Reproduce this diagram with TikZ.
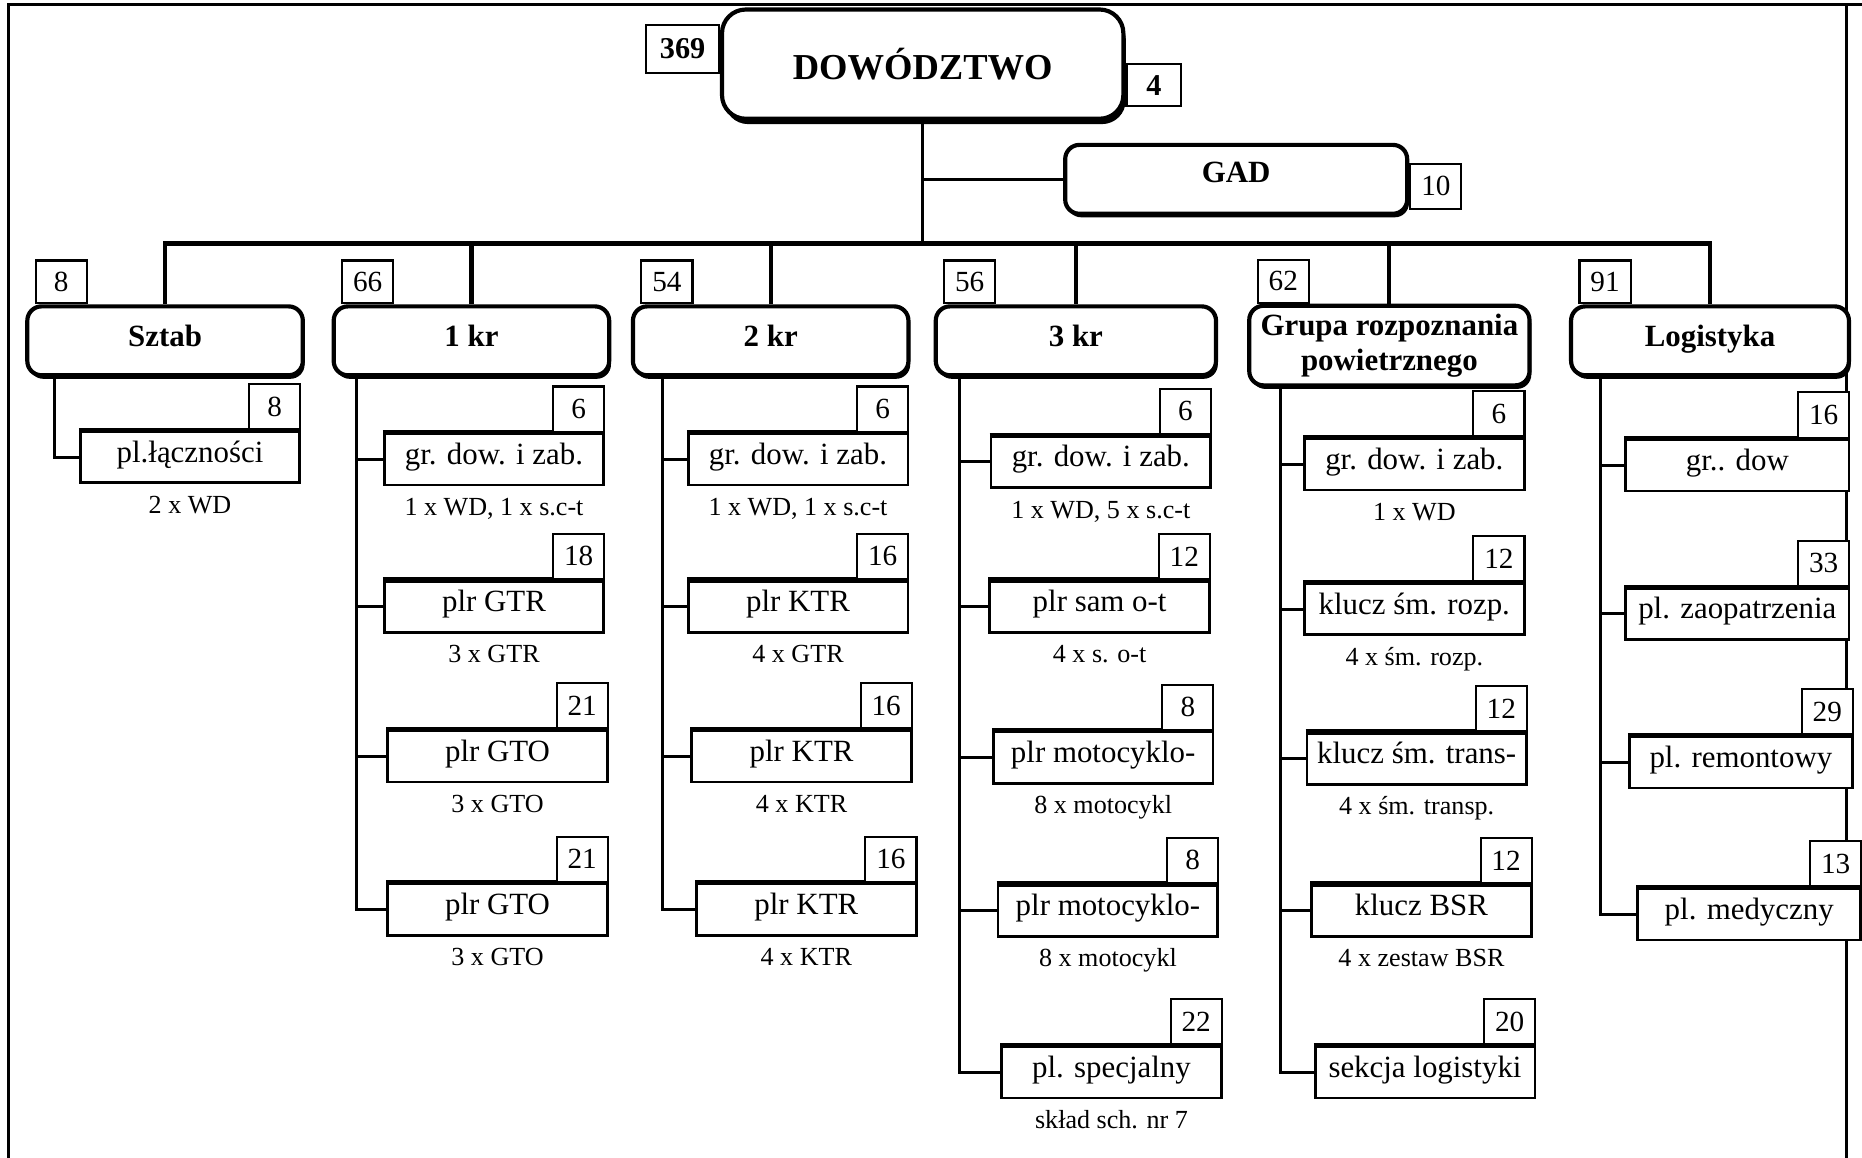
\documentclass[tikz,border=0pt]{standalone}
\usepackage{fontspec}
\setmainfont{Liberation Serif}
\usetikzlibrary{positioning,shadows}

\begin{document}
\begin{tikzpicture}[x=0.2mm,y=-0.2mm,
  unit/.style={draw, fill=white, rounded corners=2.4mm, line width=2pt,
    minimum width=46.4mm, minimum height=11.6mm, inner sep=1pt, align=center,
    font=\bfseries\fontsize{14.8}{16.6}\selectfont,
    drop shadow={shadow xshift=.3mm, shadow yshift=-.6mm, fill=black, opacity=1}},
  branch/.style={unit, text depth=.5em},
  sub/.style={draw, fill=white, line width=1.3pt, minimum width=37mm,
    minimum height=8.6mm, inner sep=0pt, text height=.7em, text depth=.22em,
    font=\fontsize{14.8}{15}\selectfont,
    append after command={(\tikzlastnode.north west) edge[line width=2.4pt] (\tikzlastnode.north east)}},
  num/.style={draw, fill=white, line width=1pt, minimum width=8.6mm,
    minimum height=7.6mm, inner sep=0pt, font=\fontsize{14}{15}\selectfont},
  note/.style={inner sep=0pt, text height=.7em, text depth=.25em,
    font=\fontsize{12.5}{14}\selectfont},
  conn/.style={line width=1.4pt}
]
\useasboundingbox (0,0) rectangle (1568,975);

% frame of the sheet
\draw[line width=1.4pt] (7,975) -- (7,4) -- (1568,4);
\draw[line width=1.2pt] (1555,4) -- (1555,975);

% command and GAD
\node[unit, minimum width=67.6mm, minimum height=18.4mm, rounded corners=4mm,
  font=\bfseries\fontsize{17.5}{18}\selectfont,
  drop shadow={shadow xshift=.4mm, shadow yshift=-.9mm, fill=black, opacity=1}] (dow) at (777,54) {DOWÓDZTWO};
\node[num, minimum width=12.2mm, minimum height=8mm, anchor=north east,
  font=\bfseries\fontsize{14.5}{15}\selectfont] (dow-n) at ([yshift=-2.8mm]dow.north west) {369};
\node[num, minimum width=9.2mm, minimum height=7mm, anchor=north west,
  font=\bfseries\fontsize{14.5}{15}\selectfont] (dow-m) at ([yshift=-9.4mm]dow.north east) {4};

\node[unit, minimum width=57.6mm, text depth=.65em] (gad) at (1041,151) {GAD};
\node[num, anchor=south west] (gad-n) at ([yshift=1mm]gad.south east) {10};

% second level
\node[branch] (sztab) at (139,287) {Sztab};
\node[branch] (kr1) at (397,287) {1 kr};
\node[branch] (kr2) at (649,287) {2 kr};
\node[branch, minimum width=47.2mm] (kr3) at (906,287) {3 kr};
\node[unit, minimum width=47.2mm, minimum height=13.4mm] (grp) at (1170,291) {Grupa rozpoznania\\powietrznego};
\node[branch, minimum width=46.8mm] (log) at (1440,287) {Logistyka};

\foreach \n/\v in {sztab/8,kr1/66,kr2/54,kr3/56,grp/62,log/91}
  \node[num, minimum height=7.2mm, anchor=south west] (\n-n) at ([xshift=1.6mm]\n.north west) {\v};

% connectors from the command
\coordinate (bus) at (777,205);
\draw[line width=1.7pt] (dow.south) -- (bus);
\draw[line width=1.7pt] (gad.west) -- (gad.west -| bus);
\foreach \n in {sztab,kr1,kr2,kr3,grp,log}
  \draw[line width=2pt] (bus) -| (\n.north);

% trunks
\coordinate (sztab-t) at (46,316);
\coordinate (kr1-t) at (300,316);
\coordinate (kr2-t) at (558,316);
\coordinate (kr3-t) at (808,316);
\coordinate (grp-t) at (1078,325);
\coordinate (log-t) at (1348,316);

% Sztab
\node[sub] (sztab-1) at (160,385) {pl.łączności};
\node[num, anchor=south east] (sztab-1-n) at (sztab-1.north east) {8};
\node[note, below=2.4mm of sztab-1] (sztab-1-c) {2 x WD};
\draw[conn] (sztab-t) |- (sztab-1.west);

% 1 kr
\foreach \x/\y/\lab/\v/\cap [count=\i] in {416/387/gr. dow. i zab./6/{1 x WD, 1 x s.c-t},
    416/511/plr GTR/18/3 x GTR, 419/637/plr GTO/21/3 x GTO, 419/766/plr GTO/21/3 x GTO}{
  \node[sub] (kr1-\i) at (\x,\y) {\lab};
  \node[num, anchor=south east] (kr1-\i-n) at (kr1-\i.north east) {\v};
  \node[note, below=2.4mm of kr1-\i] (kr1-\i-c) {\cap};
  \draw[conn] (kr1-t) |- (kr1-\i.west);
}

% 2 kr
\foreach \x/\y/\lab/\v/\cap [count=\i] in {672/387/gr. dow. i zab./6/{1 x WD, 1 x s.c-t},
    672/511/plr KTR/16/4 x GTR, 675/637/plr KTR/16/4 x KTR, 679/766/plr KTR/16/4 x KTR}{
  \node[sub] (kr2-\i) at (\x,\y) {\lab};
  \node[num, anchor=south east] (kr2-\i-n) at (kr2-\i.north east) {\v};
  \node[note, below=2.4mm of kr2-\i] (kr2-\i-c) {\cap};
  \draw[conn] (kr2-t) |- (kr2-\i.west);
}

% 3 kr
\foreach \x/\y/\lab/\v/\cap [count=\i] in {927/389/gr. dow. i zab./6/{1 x WD, 5 x s.c-t},
    926/511/plr sam o-t/12/4 x s. o-t, 929/638/plr motocyklo-/8/8 x motocykl,
    933/767/plr motocyklo-/8/8 x motocykl, 936/903/pl. specjalny/22/skład sch. nr 7}{
  \node[sub] (kr3-\i) at (\x,\y) {\lab};
  \node[num, anchor=south east] (kr3-\i-n) at (kr3-\i.north east) {\v};
  \node[note, below=2.4mm of kr3-\i] (kr3-\i-c) {\cap};
  \draw[conn] (kr3-t) |- (kr3-\i.west);
}

% Grupa rozpoznania powietrznego
\foreach \x/\y/\lab/\v/\cap [count=\i] in {1191/391/gr. dow. i zab./6/1 x WD,
    1191/513/klucz śm. rozp./12/4 x śm. rozp., 1193/639/klucz śm. trans-/12/4 x śm. transp.,
    1197/767/klucz BSR/12/4 x zestaw BSR}{
  \node[sub] (grp-\i) at (\x,\y) {\lab};
  \node[num, anchor=south east] (grp-\i-n) at (grp-\i.north east) {\v};
  \node[note, below=2.4mm of grp-\i] (grp-\i-c) {\cap};
  \draw[conn] (grp-t) |- (grp-\i.west);
}
\node[sub] (grp-5) at (1200,903) {sekcja logistyki};
\node[num, anchor=south east] (grp-5-n) at (grp-5.north east) {20};
\draw[conn] (grp-t) |- (grp-5.west);

% Logistyka
\foreach \x/\y/\lab/\v [count=\i] in {1463/392/gr.. dow/16, 1463/517/pl. zaopatrzenia/33,
    1466/642/pl. remontowy/29, 1473/770/pl. medyczny/13}{
  \node[sub, minimum width=37.6mm] (log-\i) at (\x,\y) {\lab};
  \node[num, anchor=south east] (log-\i-n) at (log-\i.north east) {\v};
  \draw[conn] (log-t) |- (log-\i.west);
}
\end{tikzpicture}
\end{document}
